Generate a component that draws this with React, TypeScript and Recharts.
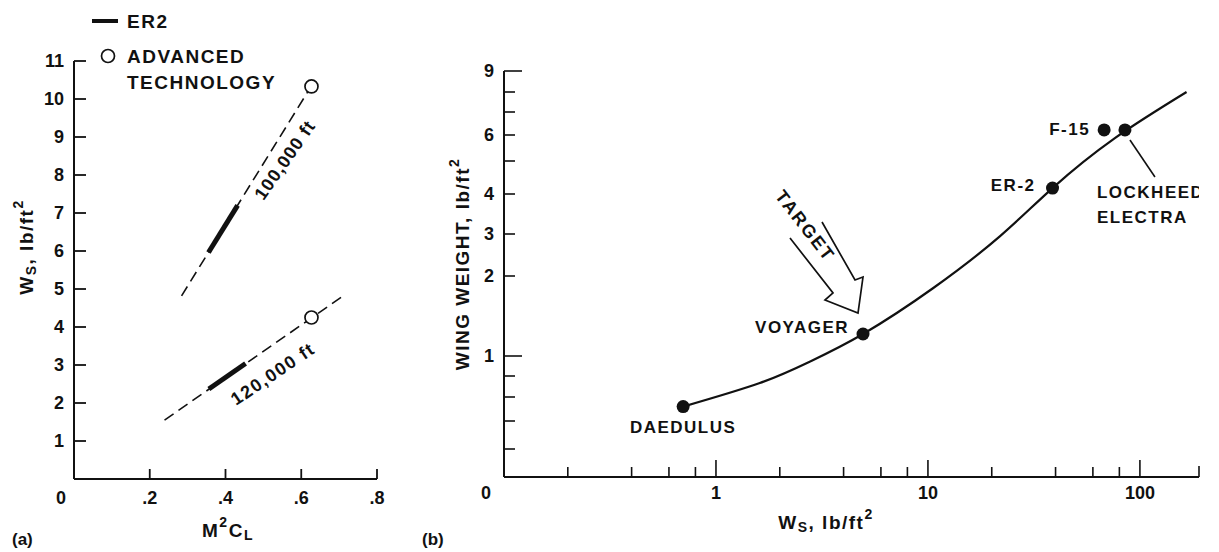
import React from "react";
import { ComposedChart, Line, Scatter, XAxis, YAxis } from "recharts";

const FONT = '"Liberation Sans", Arial, Helvetica, sans-serif';
const INK = "#111";

// ---- (a) W_S vs M^2 C_L ----
const alt100Mcl = [0.284, 0.626];
const alt100Ws = [4.82, 10.33];
const alt120Mcl = [0.239, 0.705];
const alt120Ws = [1.55, 4.78];
const er2At100Mcl = [0.355, 0.432];
const er2At100Ws = [5.96, 7.2];
const er2At120Mcl = [0.356, 0.453];
const er2At120Ws = [2.37, 3.04];
const advTechMcl = [0.627, 0.627];
const advTechWs = [10.33, 4.25];
const leftXTicks = [0, 0.2, 0.4, 0.6, 0.8];
const leftYTicks = [1, 2, 3, 4, 5, 6, 7, 8, 9, 10, 11];

// ---- (b) wing weight vs W_S ----
const aircraftNames = ["DAEDULUS", "VOYAGER", "ER-2", "F-15", "LOCKHEED ELECTRA"];
const aircraftWs = [0.7, 4.94, 38.7, 67.8, 85];
const aircraftWingWt = [0.52, 1.275, 4.18, 6.22, 6.22];
const curveWs = [0.7, 1.61, 2.78, 4.94, 10.6, 21.9, 38.7, 76.2, 166];
const curveWingWt = [0.52, 0.733, 0.945, 1.275, 1.85, 2.95, 4.18, 5.88, 8.0];
const rightXTicks = [0.1, 0.2, 0.4, 0.6, 0.8, 1, 2, 4, 6, 8, 10, 20, 40, 60, 80, 100, 190];
const rightXMajor = [1, 10, 100];
const rightYTicks = [0.2, 0.4, 0.6, 0.8, 1, 2, 3, 4, 5, 6, 7, 8, 9];
const rightYLabelled = [1, 2, 3, 4, 6, 9];

// the printed wing-weight axis is not linear: spacing of its ticks on the page
const wwKnots = [0, 0.2, 0.4, 0.6, 0.8, 1, 2, 3, 4, 5, 6, 7, 8, 9];
const wwKnotPos = [0, 28, 56, 80, 101, 121, 201, 243, 283, 316, 342, 365, 385, 406];

const toPaper = (v: number) => {
  for (let i = 0; i < wwKnots.length - 1; i++) {
    if (v <= wwKnots[i + 1]) {
      const t = (v - wwKnots[i]) / (wwKnots[i + 1] - wwKnots[i]);
      return wwKnotPos[i] + t * (wwKnotPos[i + 1] - wwKnotPos[i]);
    }
  }
  return wwKnotPos[wwKnotPos.length - 1];
};

const zip = (xs: number[], ys: number[]) => xs.map((x, i) => ({ x, y: ys[i] }));

const alt100 = zip(alt100Mcl, alt100Ws);
const alt120 = zip(alt120Mcl, alt120Ws);
const er2At100 = zip(er2At100Mcl, er2At100Ws);
const er2At120 = zip(er2At120Mcl, er2At120Ws);
const advTech = zip(advTechMcl, advTechWs);

const curve = curveWs.map((x, i) => ({ x, y: toPaper(curveWingWt[i]) }));
const aircraft = aircraftNames.map((name, i) => ({
  name,
  x: aircraftWs[i],
  y: toPaper(aircraftWingWt[i]),
}));

const labelStyle: Record<string, { dx: number; dy: number; anchor: string }> = {
  DAEDULUS: { dx: 0, dy: 21, anchor: "middle" },
  VOYAGER: { dx: -14, dy: -7, anchor: "end" },
  "ER-2": { dx: -17, dy: -3, anchor: "end" },
  "F-15": { dx: -14, dy: 0, anchor: "end" },
  "LOCKHEED ELECTRA": { dx: -28, dy: 63, anchor: "start" },
};

const txt = {
  fontFamily: FONT,
  fontWeight: 700,
  fill: INK,
};

function LeftXTick({ x, y, payload }: any) {
  const v = payload.value;
  if (v === 0) {
    return (
      <text x={x - 13} y={y + 19} textAnchor="middle" dominantBaseline="central" fontSize={18} {...txt}>
        0
      </text>
    );
  }
  return (
    <g>
      <line x1={x} x2={x} y1={y} y2={y - 10} stroke={INK} strokeWidth={1.8} />
      <text x={x} y={y + 19} textAnchor="middle" dominantBaseline="central" fontSize={18} {...txt}>
        {String(v).replace(/^0/, "")}
      </text>
    </g>
  );
}

function LeftYTick({ x, y, payload }: any) {
  return (
    <g>
      <line x1={x} x2={x + 12} y1={y} y2={y} stroke={INK} strokeWidth={1.8} />
      <text x={x - 10} y={y} textAnchor="end" dominantBaseline="central" fontSize={18} {...txt}>
        {payload.value}
      </text>
    </g>
  );
}

function RightXTick({ x, y, payload }: any) {
  const v = payload.value;
  if (v === 0.1) {
    return (
      <text x={x - 18} y={y + 16} textAnchor="middle" dominantBaseline="central" fontSize={18} {...txt}>
        0
      </text>
    );
  }
  const major = rightXMajor.includes(v);
  const len = major ? 17 : v === 190 ? 11 : 10;
  return (
    <g>
      <line x1={x} x2={x} y1={y} y2={y - len} stroke={INK} strokeWidth={1.6} />
      {major && (
        <text x={x} y={y + 16} textAnchor="middle" dominantBaseline="central" fontSize={18} {...txt}>
          {v}
        </text>
      )}
    </g>
  );
}

function RightYTick({ x, y, payload }: any) {
  const idx = rightYTicks.findIndex((t) => Math.abs(toPaper(t) - payload.value) < 0.01);
  const v = rightYTicks[idx];
  const labelled = rightYLabelled.includes(v);
  const len = v === 1 || v === 9 ? 18 : 11;
  return (
    <g>
      <line x1={x} x2={x + len} y1={y} y2={y} stroke={INK} strokeWidth={1.6} />
      {labelled && (
        <text x={x - 10} y={y} textAnchor="end" dominantBaseline="central" fontSize={18} {...txt}>
          {v}
        </text>
      )}
    </g>
  );
}

const OpenCircle = (p: any) => (
  <circle cx={p.cx} cy={p.cy} r={6.5} fill="#fff" stroke={INK} strokeWidth={1.7} />
);

const AircraftDot = (p: any) => {
  const s = labelStyle[p.payload.name];
  const lines = s.anchor === "start" ? p.payload.name.split(" ") : [p.payload.name];
  return (
    <g>
      <circle cx={p.cx} cy={p.cy} r={6.5} fill={INK} />
      {s.anchor === "start" && (
        <line x1={p.cx + 5} y1={p.cy + 10} x2={p.cx + 30} y2={p.cy + 47} stroke={INK} strokeWidth={1.6} />
      )}
      {lines.map((t: string, i: number) => (
        <text
          key={t}
          x={p.cx + s.dx}
          y={p.cy + s.dy + i * 25}
          textAnchor={s.anchor}
          dominantBaseline="central"
          fontSize={17}
          letterSpacing={1.5}
          {...txt}
        >
          {t}
        </text>
      ))}
    </g>
  );
};

const axisLine = { stroke: INK, strokeWidth: 2 };

function ChartA() {
  return (
    <ComposedChart width={420} height={552} margin={{ top: 61, right: 43, bottom: 33, left: 0 }}>
      <XAxis
        type="number"
        dataKey="x"
        domain={[0, 0.8]}
        ticks={leftXTicks}
        interval={0}
        height={40}
        tickSize={0}
        tickMargin={0}
        tickLine={false}
        axisLine={axisLine}
        tick={<LeftXTick />}
      />
      <YAxis
        type="number"
        dataKey="y"
        domain={[0, 11]}
        ticks={leftYTicks}
        interval={0}
        width={74}
        tickSize={0}
        tickMargin={0}
        tickLine={false}
        axisLine={axisLine}
        tick={<LeftYTick />}
      />
      <Line data={alt100} dataKey="y" type="linear" stroke={INK} strokeWidth={1.6} strokeDasharray="11 6" dot={false} isAnimationActive={false} />
      <Line data={alt120} dataKey="y" type="linear" stroke={INK} strokeWidth={1.6} strokeDasharray="11 6" dot={false} isAnimationActive={false} />
      <Line data={er2At100} dataKey="y" type="linear" stroke={INK} strokeWidth={5} dot={false} isAnimationActive={false} />
      <Line data={er2At120} dataKey="y" type="linear" stroke={INK} strokeWidth={5} dot={false} isAnimationActive={false} />
      <Scatter data={advTech} dataKey="y" shape={OpenCircle} isAnimationActive={false} />
    </ComposedChart>
  );
}

function ChartB() {
  return (
    <ComposedChart width={799} height={552} margin={{ top: 71, right: 20, bottom: 35, left: 0 }}>
      <XAxis
        type="number"
        dataKey="x"
        scale="log"
        domain={[0.1, 190]}
        allowDataOverflow
        ticks={rightXTicks}
        interval={0}
        height={40}
        tickSize={0}
        tickMargin={0}
        tickLine={false}
        axisLine={axisLine}
        tick={<RightXTick />}
      />
      <YAxis
        type="number"
        dataKey="y"
        domain={[0, 406]}
        allowDataOverflow
        ticks={rightYTicks.map(toPaper)}
        interval={0}
        width={84}
        tickSize={0}
        tickMargin={0}
        tickLine={false}
        axisLine={axisLine}
        tick={<RightYTick />}
      />
      <Line data={curve} dataKey="y" type="natural" stroke={INK} strokeWidth={2.2} dot={false} isAnimationActive={false} />
      <Scatter data={aircraft} dataKey="y" shape={AircraftDot} isAnimationActive={false} />
    </ComposedChart>
  );
}

function Annotations() {
  const t = { ...txt, fontSize: 19, letterSpacing: 1.5 } as any;
  return (
    <svg width={1219} height={552} style={{ position: "absolute", left: 0, top: 0, pointerEvents: "none" }}>
      {/* legend of (a) */}
      <line x1={92} x2={118} y1={21} y2={21} stroke={INK} strokeWidth={4} />
      <text x={127} y={21} dominantBaseline="central" {...t}>ER2</text>
      <circle cx={108} cy={56} r={6.5} fill="#fff" stroke={INK} strokeWidth={1.7} />
      <text x={127} y={56} dominantBaseline="central" {...t}>ADVANCED</text>
      <text x={127} y={82} dominantBaseline="central" {...t}>TECHNOLOGY</text>

      <text x={285} y={160} transform="rotate(-55 285 160)" textAnchor="middle" dominantBaseline="central" {...t} fontSize={18} letterSpacing={1}>
        100,000 ft
      </text>
      <text x={273} y={374} transform="rotate(-34 273 374)" textAnchor="middle" dominantBaseline="central" {...t} fontSize={18} letterSpacing={1.5}>
        120,000 ft
      </text>

      <text x={26} y={247} transform="rotate(-90 26 247)" textAnchor="middle" dominantBaseline="central" {...t}>
        W<tspan fontSize={14} dy={5}>S</tspan>
        <tspan dy={-5}>, lb/ft</tspan>
        <tspan fontSize={14} dy={-8}>2</tspan>
      </text>
      <text x={228} y={530} textAnchor="middle" dominantBaseline="central" {...t}>
        M<tspan fontSize={14} dy={-8}>2</tspan>
        <tspan dy={8}>C</tspan>
        <tspan fontSize={14} dy={5}>L</tspan>
      </text>
      <text x={12} y={539} dominantBaseline="central" {...t} fontSize={17} letterSpacing={0}>(a)</text>

      {/* (b) */}
      <text x={462} y={264} transform="rotate(-90 462 264)" textAnchor="middle" dominantBaseline="central" {...t}>
        WING WEIGHT, lb/ft<tspan fontSize={14} dy={-8}>2</tspan>
      </text>
      <text x={826} y={522} textAnchor="middle" dominantBaseline="central" {...t}>
        W<tspan fontSize={14} dy={5}>S</tspan>
        <tspan dy={-5}>, lb/ft</tspan>
        <tspan fontSize={14} dy={-8}>2</tspan>
      </text>
      <text x={422} y={539} dominantBaseline="central" {...t} fontSize={17} letterSpacing={0}>(b)</text>

      <text x={805} y={226} transform="rotate(52 805 226)" textAnchor="middle" dominantBaseline="central" {...t} fontSize={18} letterSpacing={2}>
        TARGET
      </text>
      <polyline
        points="790,238 833,293 825,300 858,313 863,277 855,280 822,222"
        fill="none"
        stroke={INK}
        strokeWidth={1.7}
        strokeLinejoin="miter"
      />
    </svg>
  );
}

export default function App() {
  return (
    <div style={{ position: "absolute", left: 0, top: 0, width: 1219, height: 552, background: "#fff", overflow: "hidden" }}>
      <div style={{ position: "absolute", left: 0, top: 0 }}>
        <ChartA />
      </div>
      <div style={{ position: "absolute", left: 420, top: 0 }}>
        <ChartB />
      </div>
      <Annotations />
    </div>
  );
}
